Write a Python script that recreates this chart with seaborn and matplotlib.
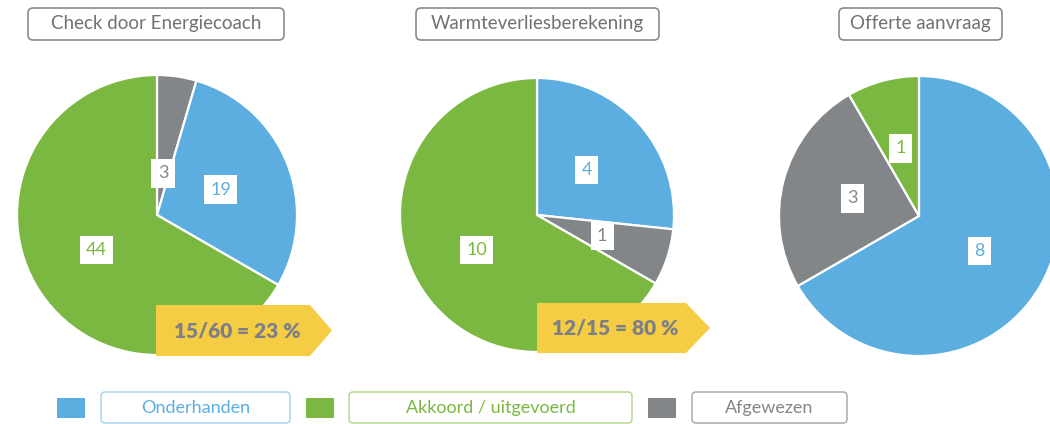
import numpy as np
import matplotlib
matplotlib.use("Agg")
import matplotlib.pyplot as plt
import seaborn as sns
from matplotlib.patches import FancyBboxPatch, Rectangle, Polygon

# --- data ---
categories = ["Onderhanden", "Akkoord / uitgevoerd", "Afgewezen"]
panel_titles = ["Check door Energiecoach", "Warmteverliesberekening", "Offerte aanvraag"]
check_values = [19, 44, 3]      # onderhanden, akkoord, afgewezen
warmte_values = [4, 10, 1]
offerte_values = [8, 1, 3]
ratio_labels = ["15/60 = 23 %", "12/15 = 80 %"]

# order of slices clockwise from 12 o'clock (index into categories)
slice_orders = [[2, 0, 1], [0, 2, 1], [0, 2, 1]]

sns.set_theme(style="white")
plt.rcParams["font.family"] = ["Lato", "DejaVu Sans"]

colors = ["#5cade0", "#7bb841", "#838689"]
light_edges = ["#a9d3ee", "#b7d992", "#a9abad"]
yellow = "#f5cd45"
txt_gray = "#707174"

W, H = 1050, 424
fig = plt.figure(figsize=(W / 100, H / 100), dpi=100)
ax = fig.add_axes([0, 0, 1, 1])

# layout in pixel space (y measured from top)
centers = [(157, 215), (537, 215), (919, 216)]
radii = [140, 137, 140]
title_boxes = [(28, 284), (416, 659), (839, 1002)]
label_frac = [[0.3, 0.49, 0.5], [0.49, 0.5, 0.51], [0.5, 0.49, 0.5]]

def fy(y):
    return H - y

all_values = [check_values, warmte_values, offerte_values]
for i, vals in enumerate(all_values):
    order = slice_orders[i]
    v = [vals[k] for k in order]
    c = [colors[k] for k in order]
    cx, cy = centers[i]
    r = radii[i]
    wedges, _ = ax.pie(v, colors=c, startangle=90, counterclock=False,
                       center=(cx, fy(cy)), radius=r,
                       wedgeprops=dict(edgecolor="white", linewidth=1.6))
    for j, w in enumerate(wedges):
        mid = np.deg2rad((w.theta1 + w.theta2) / 2)
        fr = label_frac[i][j]
        ax.text(cx + fr * r * np.cos(mid), fy(cy) + fr * r * np.sin(mid), str(v[j]),
                ha="center", va="center", fontsize=13, color=c[j],
                bbox=dict(boxstyle="square,pad=0.35", fc="white", ec="none"), zorder=5)

    # title box
    x0, x1 = title_boxes[i]
    ax.add_patch(FancyBboxPatch((x0 + 5, fy(40) + 5), x1 - x0 - 10, 22,
                                boxstyle="round,pad=5", fc="white", ec="#7d8084", lw=1.1))
    ax.text((x0 + x1) / 2, fy(24), panel_titles[i], ha="center", va="center",
            fontsize=13.5, color=txt_gray)

# yellow ratio arrows
arrows = [(156, 305, 356, 310, 332), (537, 303, 353, 686, 710)]
for (xl, yt, yb, xs, xt), lab in zip(arrows, ratio_labels):
    ym = (yt + yb) / 2
    pts = [(xl, fy(yt)), (xs, fy(yt)), (xt, fy(ym)), (xs, fy(yb)), (xl, fy(yb))]
    ax.add_patch(Polygon(pts, closed=True, fc=yellow, ec="none", zorder=4))
    ax.text((xl + xs) / 2 + 4, fy(ym), lab, ha="center", va="center", fontsize=15,
            fontweight="heavy", color="#7e7f86", zorder=6)

# legend
sq_x = [57, 306, 648]
box_x = [(101, 290), (349, 632), (692, 847)]
for k, name in enumerate(categories):
    ax.add_patch(Rectangle((sq_x[k], fy(418)), 28, 20, fc=colors[k], ec="none"))
    bx0, bx1 = box_x[k]
    ax.add_patch(FancyBboxPatch((bx0 + 4, fy(423) + 4), bx1 - bx0 - 8, 23,
                                boxstyle="round,pad=4", fc="white", ec=light_edges[k], lw=1.1))
    ax.text((bx0 + bx1) / 2, fy(408), name, ha="center", va="center",
            fontsize=13, color=colors[k])

ax.set_xlim(0, W)
ax.set_ylim(0, H)
ax.set_aspect("equal")
ax.axis("off")

fig.savefig("out.png", dpi=100)
